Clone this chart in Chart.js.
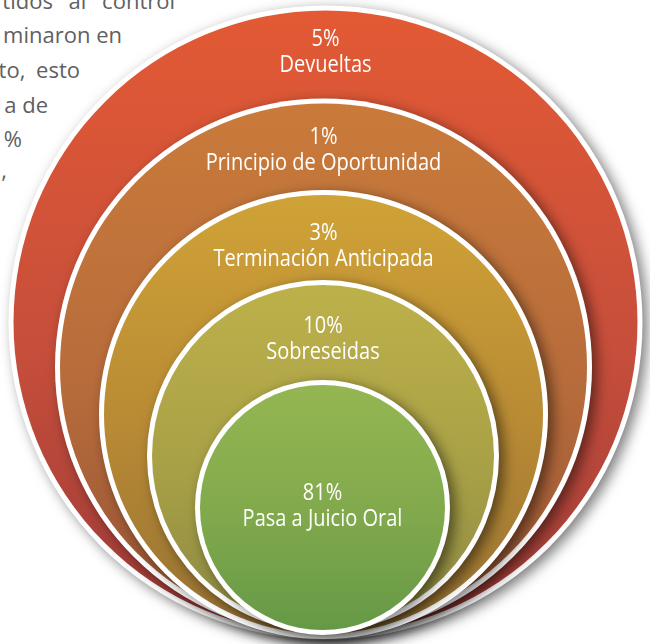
<!DOCTYPE html>
<html>
<head>
<meta charset="utf-8">
<script src="https://cdn.jsdelivr.net/npm/chart.js@4.4.1/dist/chart.umd.min.js"></script>
<style>
html,body{margin:0;padding:0;background:#ffffff;}
#wrap{position:relative;width:650px;height:644px;overflow:hidden;background:#ffffff;}
.bt{position:absolute;font-family:'Open Sans',sans-serif;font-size:22px;line-height:22px;color:#5f6062;white-space:pre;}
#c{position:absolute;left:0;top:0;}
</style>
</head>
<body>
<div id="wrap">
  <div class="bt" style="right:475px;top:-11px;word-spacing:10px">tidos al control</div>
  <div class="bt" style="right:528px;top:23px;">minaron en</div>
  <div class="bt" style="right:570px;top:58px;word-spacing:5px">to, esto</div>
  <div class="bt" style="right:602px;top:93px;">a de</div>
  <div class="bt" style="right:628px;top:127px;">%</div>
  <div class="bt" style="right:643px;top:158px;">,</div>
  <canvas id="c" width="650" height="644"></canvas>
</div>
<script>
// ---- data ----
const categories = ['Devueltas', 'Principio de Oportunidad', 'Terminación Anticipada', 'Sobreseidas', 'Pasa a Juicio Oral'];
const values = [5, 1, 3, 10, 81];
const percentLabels = values.map(v => v + '%');

// ---- layout (nested circle geometry, in canvas units) ----
const ringLayout = [
  { cx: 325.5, cy: 322.5, R: 317,   labelDy: 45 },
  { cx: 323.5, cy: 367,   R: 268.5, labelDy: 50 },
  { cx: 323.5, cy: 414.5, R: 224.5, labelDy: 54.5 },
  { cx: 323,   cy: 456,   R: 176,   labelDy: 57.5 },
  { cx: 322.5, cy: 507.5, R: 127.5, labelDy: 125 }
];
const BORDER = 5;
const ringColors = [
  ['#e35a34', '#c64e3b', '#9c3a38'],
  ['#ca7b3a', '#b66b3b', '#955234'],
  ['#d0a337', '#b78934', '#957133'],
  ['#bdb14a', '#a8a046', '#8a8843'],
  ['#95b752', '#80a84c', '#649846']
];

function ringGradient(ctx, i) {
  const chart = ctx.chart;
  const g = ringLayout[i];
  const ys = chart.scales && chart.scales.y;
  if (!ys || ys.top === undefined) return ringColors[i][1];
  const top = ys.getPixelForValue(g.cy - g.R);
  const bottom = ys.getPixelForValue(g.cy + g.R);
  const grad = chart.ctx.createLinearGradient(0, top, 0, bottom);
  const st = ringColors[i];
  grad.addColorStop(0, st[0]);
  grad.addColorStop(0.55, st[1]);
  grad.addColorStop(1, st[2]);
  return grad;
}

const datasets = [];
ringLayout.forEach((g, i) => {
  datasets.push({
    label: categories[i] + ' borde',
    data: [{ x: g.cx, y: g.cy, r: g.R }],
    backgroundColor: '#ffffff',
    borderWidth: 0,
    order: 100 - 2 * i,
    clip: false,
    role: 'halo',
    ring: i
  });
  datasets.push({
    label: categories[i],
    data: [{ x: g.cx, y: g.cy, r: g.R - BORDER }],
    backgroundColor: (ctx) => ringGradient(ctx, i),
    borderWidth: 0,
    order: 99 - 2 * i,
    clip: false,
    role: 'fill',
    ring: i
  });
});

const shadowPlugin = {
  id: 'ringShadow',
  beforeDatasetDraw(chart, args) {
    const ds = chart.data.datasets[args.index];
    if (ds.role === 'halo') {
      const c = chart.ctx;
      c.save();
      c.shadowColor = 'rgba(0,0,0,0.5)';
      c.shadowBlur = 13;
      c.shadowOffsetX = 5;
      c.shadowOffsetY = 4;
    }
  },
  afterDatasetDraw(chart, args) {
    const ds = chart.data.datasets[args.index];
    if (ds.role === 'halo') chart.ctx.restore();
  }
};

const labelPlugin = {
  id: 'ringLabels',
  afterDatasetsDraw(chart) {
    const c = chart.ctx;
    chart.data.datasets.forEach((ds, idx) => {
      if (ds.role !== 'halo') return;
      const i = ds.ring;
      const el = chart.getDatasetMeta(idx).data[0];
      const top = el.y - el.options.radius;
      const center = top + ringLayout[i].labelDy;
      const lines = [percentLabels[i], categories[i]];
      c.save();
      c.fillStyle = '#ffffff';
      c.font = '23px "Open Sans", sans-serif';
      c.textAlign = 'center';
      c.textBaseline = 'alphabetic';
      lines.forEach((t, k) => {
        const capCenter = center + (k - 0.5) * 26;
        c.save();
        c.translate(el.x, capCenter + 8);
        c.scale(0.87, 1);
        c.fillText(t, 0, 0);
        c.restore();
      });
      c.restore();
    });
  }
};

new Chart(document.getElementById('c'), {
  type: 'bubble',
  data: { datasets },
  options: {
    responsive: false,
    animation: false,
    events: [],
    layout: { padding: 0, autoPadding: false },
    plugins: { legend: { display: false }, tooltip: { enabled: false } },
    scales: {
      x: { type: 'linear', min: 0, max: 650, display: false },
      y: { type: 'linear', min: 0, max: 644, reverse: true, display: false }
    }
  },
  plugins: [shadowPlugin, labelPlugin]
});
</script>
</body>
</html>
